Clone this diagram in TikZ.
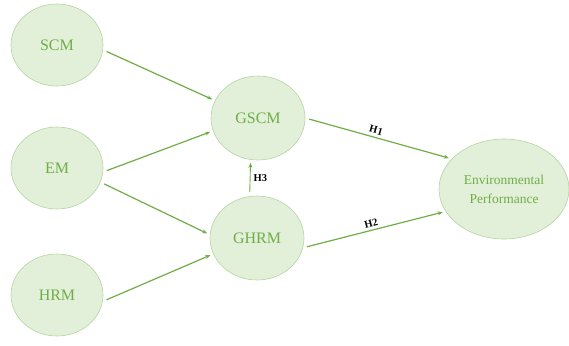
\documentclass[tikz,border=0pt]{standalone}
\usepackage{fontspec}
\setmainfont{Liberation Serif}
\usetikzlibrary{shapes.geometric,arrows.meta}
\definecolor{leaf}{HTML}{70AD47}
\definecolor{leaffill}{HTML}{E2F0D9}
\definecolor{leafline}{HTML}{B4D5A0}

\begin{document}
\begin{tikzpicture}[x=1pt,y=-1pt,
  var/.style={ellipse,draw=leafline,fill=leaffill,text=leaf,line width=0.6pt,minimum width=92pt,minimum height=82pt,inner sep=0pt,font=\fontsize{16}{18}\selectfont},
  link/.style={draw=leaf,line width=1.2pt,-{Stealth[length=5pt,width=4pt]},shorten <=4pt,shorten >=3pt},
  hyp/.style={inner sep=3pt,font=\bfseries\fontsize{10.5}{12}\selectfont}]
\useasboundingbox (0,0) rectangle (569,345);
\node[var] (scm) at (57,45) {SCM};
\node[var] (em) at (57,168) {EM};
\node[var] (hrm) at (57,295) {HRM};
\node[var,minimum width=94pt,minimum height=84pt] (gscm) at (258,118) {GSCM};
\node[var,minimum width=94pt,minimum height=84pt] (ghrm) at (257,238) {GHRM};
\node[var,minimum width=130pt,minimum height=100pt,align=center,font=\fontsize{13.5}{19}\selectfont] (ep) at (504,189) {Environmental\\Performance};
\draw[link] (scm.-6) -- (gscm.158);
\draw[link] (em.-5) -- (gscm.196);
\draw[link] (em.-18) -- (ghrm.176);
\draw[link] (hrm.-8) -- (ghrm.200);
\draw[link] (gscm.0) -- node[hyp,sloped,above,pos=0.47] {H1} (ep.150);
\draw[link] (ghrm.-12) -- node[hyp,sloped,above,pos=0.49] {H2} (ep.201);
\draw[link,line width=0.9pt] (ghrm.100) -- node[hyp,right] {H3} (gscm.260);
\end{tikzpicture}
\end{document}
